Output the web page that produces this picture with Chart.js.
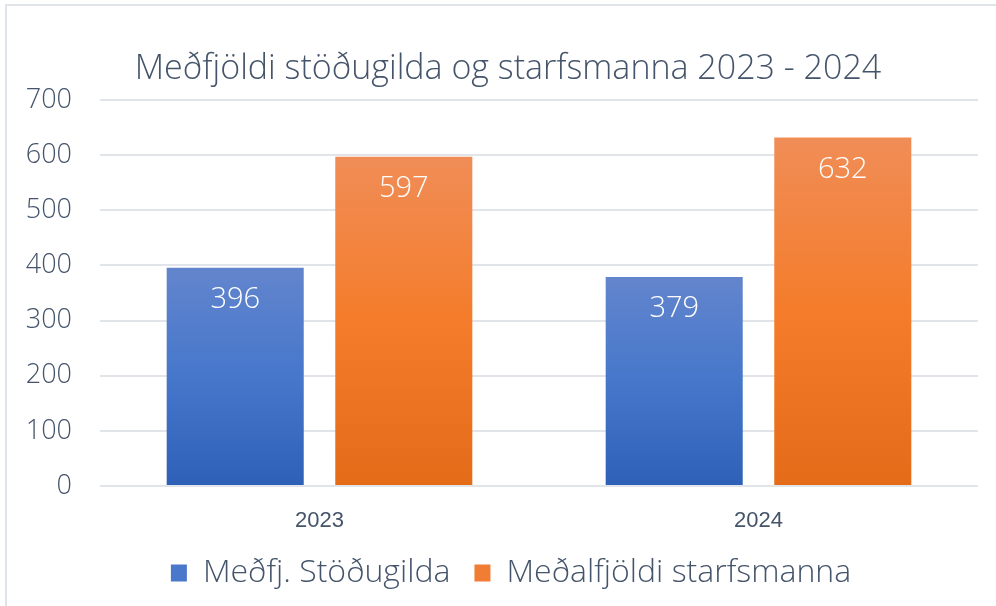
<!DOCTYPE html>
<html lang="is">
<head>
    <meta charset="UTF-8">
    <title>Meðfjöldi stöðugilda og starfsmanna</title>
    <style>
        html, body {
            margin: 0;
            padding: 0;
            background-color: #fff;
            overflow: hidden;
        }
        .frame {
            position: absolute;
            left: 5px;
            top: 4px;
            width: 2000px;
            height: 2000px;
            border-left: 2px solid #dfe4ea;
            border-top: 2px solid #dfe4ea;
        }
        #chart {
            position: absolute;
            left: 0;
            top: 0;
        }
    </style>
    <script src="https://cdn.jsdelivr.net/npm/chart.js"></script>
</head>
<body>
    <div class="frame"></div>
    <canvas id="chart" width="996" height="606"></canvas>

    <script>
        const years = ['2023', '2024'];
        const stodugildi = [396, 379];
        const starfsmenn = [597, 632];
        const seriesNames = ['Meðfj. Stöðugilda', 'Meðalfjöldi starfsmanna'];

        const textColor = '#44546a';
        const mainFont = '"Open Sans", Lato, sans-serif';

        // vertical gradient from the top of each bar down to the zero line
        function barGradient(stops, flat) {
            return function (c) {
                const chart = c.chart;
                if (c.type !== 'data' || !chart.chartArea || !chart.scales.y) return flat;
                const y = chart.scales.y;
                const top = y.getPixelForValue(c.raw);
                const bottom = y.getPixelForValue(0);
                const g = chart.ctx.createLinearGradient(0, top, 0, bottom);
                stops.forEach(s => g.addColorStop(s[0], s[1]));
                return g;
            };
        }

        const blueStops = [[0, '#6385cd'], [0.5, '#4677cb'], [1, '#2e60b8']];
        const orangeStops = [[0, '#f08d57'], [0.5, '#f47c2a'], [1, '#e46b18']];

        // value labels in white just under the top of each bar
        const valueLabels = {
            id: 'valueLabels',
            afterDatasetsDraw(chart) {
                const ctx = chart.ctx;
                ctx.save();
                ctx.fillStyle = '#ffffff';
                ctx.font = '300 29px ' + mainFont;
                ctx.textAlign = 'center';
                ctx.textBaseline = 'middle';
                chart.data.datasets.forEach((ds, i) => {
                    chart.getDatasetMeta(i).data.forEach((bar, j) => {
                        ctx.fillText(ds.data[j], bar.x, bar.y + 32);
                    });
                });
                ctx.restore();
            }
        };

        // title and legend sit a bit right of the canvas centre
        const nudgeBoxes = {
            id: 'nudgeBoxes',
            afterLayout(chart) {
                chart.titleBlock.left += 19;
                chart.titleBlock.right += 19;
                chart.legend.left += 22;
                chart.legend.right += 22;
            }
        };

        new Chart(document.getElementById('chart'), {
            type: 'bar',
            data: {
                labels: years,
                datasets: [{
                    label: seriesNames[0],
                    data: stodugildi,
                    backgroundColor: barGradient(blueStops, '#4472c4')
                }, {
                    label: seriesNames[1],
                    data: starfsmenn,
                    backgroundColor: barGradient(orangeStops, '#ed7d31')
                }]
            },
            options: {
                responsive: false,
                animation: false,
                categoryPercentage: 0.768,
                barPercentage: 0.813,
                layout: {
                    padding: { left: 0, right: 18, top: 0, bottom: 7 }
                },
                plugins: {
                    title: {
                        display: true,
                        text: 'Meðfjöldi stöðugilda og starfsmanna 2023 - 2024',
                        color: textColor,
                        font: { family: mainFont, size: 34, weight: '300' },
                        padding: { top: 49, bottom: 10.2 }
                    },
                    legend: {
                        position: 'bottom',
                        labels: {
                            color: textColor,
                            font: { family: mainFont, size: 32, weight: '300' },
                            boxWidth: 16,
                            boxHeight: 17,
                            padding: 24,
                            generateLabels(chart) {
                                return chart.data.datasets.map((ds, i) => ({
                                    text: ds.label,
                                    fillStyle: i === 0 ? '#4a78cb' : '#f07d33',
                                    strokeStyle: 'rgba(0,0,0,0)',
                                    lineWidth: 0,
                                    fontColor: textColor,
                                    datasetIndex: i
                                }));
                            }
                        }
                    },
                    tooltip: { enabled: false }
                },
                scales: {
                    x: {
                        grid: { display: false },
                        border: { display: false },
                        ticks: {
                            color: textColor,
                            font: { family: '"Liberation Sans", Arial, sans-serif', size: 22 },
                            padding: 14
                        },
                        afterFit(scale) { scale.height = 47; }
                    },
                    y: {
                        min: 0,
                        max: 700,
                        grid: { color: '#e1e5ea', lineWidth: 2, drawTicks: false },
                        border: { display: false },
                        ticks: {
                            stepSize: 100,
                            color: textColor,
                            font: { family: mainFont, size: 27, weight: '300' },
                            padding: 28
                        },
                        afterFit(scale) { scale.width = 100; }
                    }
                }
            },
            plugins: [valueLabels, nudgeBoxes]
        });
    </script>
</body>
</html>
